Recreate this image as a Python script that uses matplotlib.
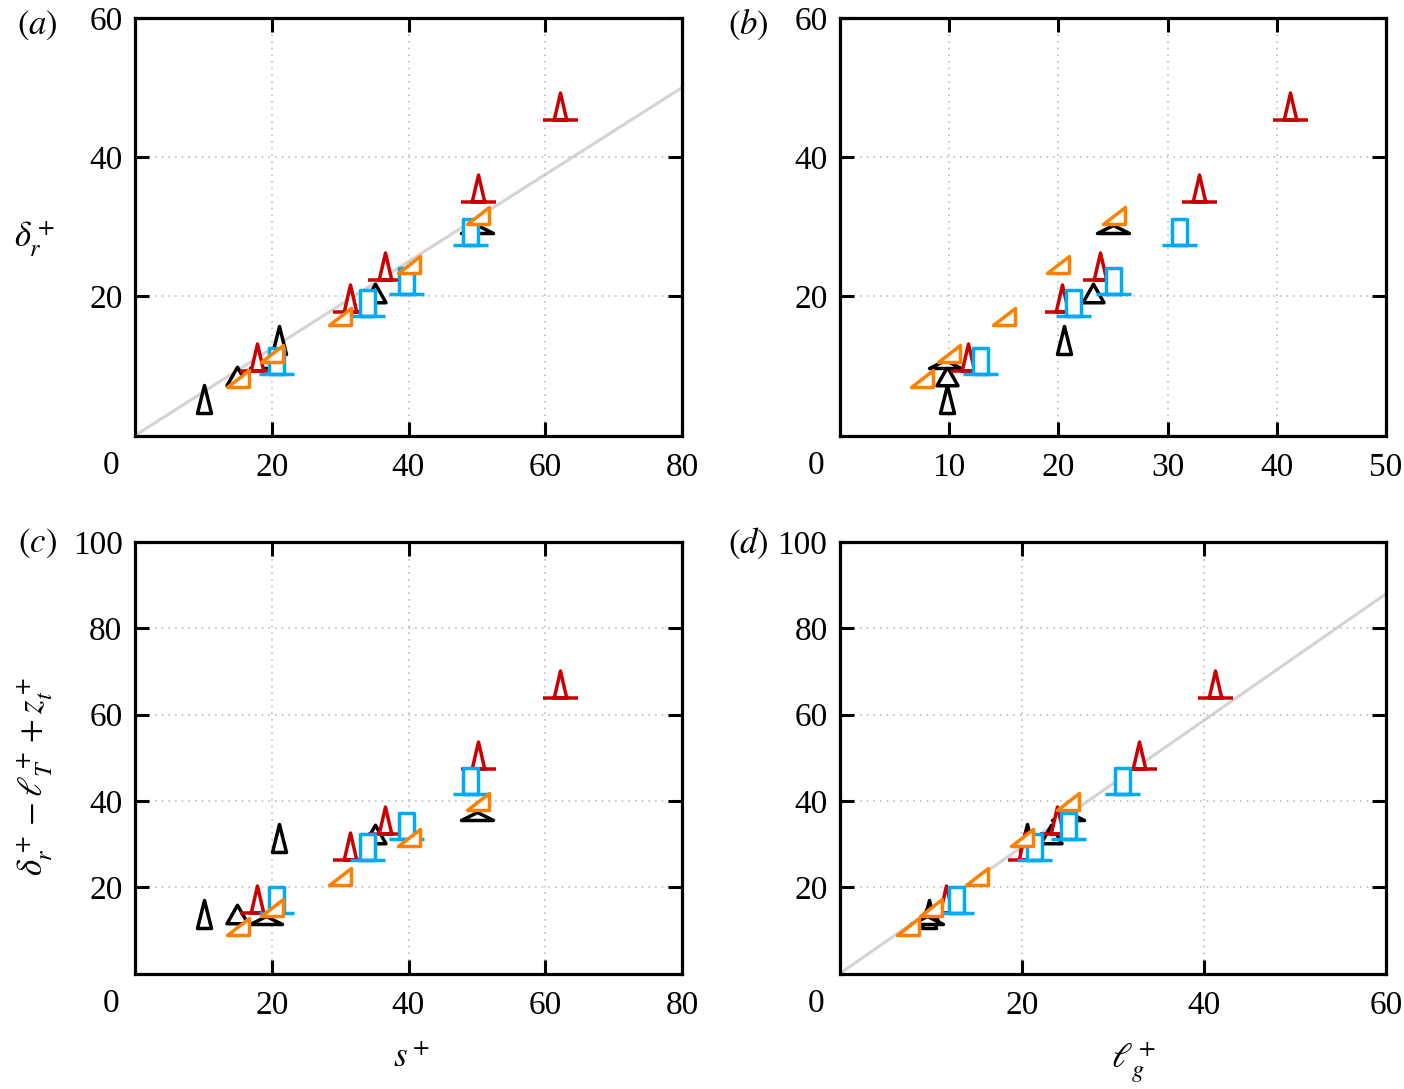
import numpy as np
import matplotlib
matplotlib.use("Agg")
import matplotlib.pyplot as plt
from matplotlib.path import Path
from matplotlib.markers import MarkerStyle

plt.rcParams['font.family'] = ['Liberation Serif', 'DejaVu Serif']
plt.rcParams['mathtext.fontset'] = 'stix'

# [DATA] ----------------------------------------------------------------------
# black: triangles of three aspect ratios
blk_s = [10.1, 14.9, 19.2, 21.1, 35.1, 50.0]
blk_lg = [9.8, 9.8, 9.6, 20.5, 23.2, 25.0]
blk_dr = [5.3, 8.5, 10.3, 13.7, 20.5, 29.7]
blk_yc = [13.8, 13.8, 12.4, 31.3, 32.4, 36.6]
blk_shape = ['tall', 'mid', 'wide', 'tall', 'mid', 'wide']

# red: triangle on a base plate
red_s = [17.9, 31.5, 36.6, 50.1, 62.2]
red_lg = [11.7, 20.3, 23.85, 32.9, 41.2]
red_dr = [11.3, 19.8, 24.3, 35.5, 47.4]
red_yc = [17.2, 29.5, 35.5, 50.6, 67.2]

# blue: bar on a base plate
blu_s = [20.6, 33.9, 39.6, 49.0]
blu_lg = [12.8, 21.3, 25.0, 31.0]
blu_dr = [10.7, 19.0, 22.2, 29.2]
blu_yc = [17.0, 29.3, 34.2, 44.6]

# orange: right triangle
org_s = [15.0, 20.0, 30.0, 40.1, 50.2]
org_lg = [7.5, 10.0, 15.0, 20.0, 25.1]
org_dr = [8.3, 11.8, 17.2, 24.7, 31.7]
org_yc = [10.9, 15.3, 22.7, 31.7, 40.0]

# grey reference lines (end points)
fit_a_x, fit_a_y = [0, 80], [0, 50]
fit_d_x, fit_d_y = [0, 60], [0, 88]

# [END DATA]

C_BLK = 'black'
C_RED = '#cc0000'
C_BLU = '#00aaf5'
C_ORG = '#ff8000'

PX = 0.72  # points per pixel at dpi=100
MOVE, LINE, CLOSE = Path.MOVETO, Path.LINETO, Path.CLOSEPOLY
FS = 24


def make_marker(verts, codes):
    verts = np.asarray(verts, float)
    r = np.max(np.abs(verts))
    m = MarkerStyle(Path(verts, codes), joinstyle='miter', capstyle='butt')
    return m, 2 * r * PX


def tri(w, h):
    return make_marker([(-w/2, -h/2), (w/2, -h/2), (0, h/2), (0, 0)],
                       [MOVE, LINE, LINE, CLOSE])


def tri_plate(w, h, L):
    return make_marker([(-w/2, -h/2), (w/2, -h/2), (0, h/2), (0, 0),
                        (-L/2, -h/2), (L/2, -h/2)],
                       [MOVE, LINE, LINE, CLOSE, MOVE, LINE])


def bar_plate(w, h, L):
    return make_marker([(-w/2, -h/2), (-w/2, h/2), (w/2, h/2), (w/2, -h/2),
                        (0, 0), (-L/2, -h/2), (L/2, -h/2)],
                       [MOVE, LINE, LINE, LINE, CLOSE, MOVE, LINE])


def right_tri(w, h):
    return make_marker([(-w/2, -h/2), (w/2, -h/2), (w/2, h/2), (0, 0)],
                       [MOVE, LINE, LINE, CLOSE])


BLK_MK = {'tall': tri(14, 28), 'mid': tri(21, 18.5), 'wide': tri(32, 8)}
RED_MK = tri_plate(12.5, 27, 35)
BLU_MK = bar_plate(15, 26, 35)
ORG_MK = right_tri(22, 17)
MEW = 2.5


def draw(ax, xs, ys, mk, color, z):
    m, size = mk
    for x, y in zip(xs, ys):
        ax.plot([x], [y], ls='none', marker=m, markersize=size,
                mec=color, mfc='white', mew=MEW, zorder=z, clip_on=False)


def panel(ax, xb, xr, yb, xlim, ylim, xt, yt):
    for i in range(len(xb)):
        draw(ax, [xb[i]], [yb[i]], BLK_MK[blk_shape[i]], C_BLK, 3)
    draw(ax, xr[0], xr[1], RED_MK, C_RED, 4)
    draw(ax, xr[2], xr[3], BLU_MK, C_BLU, 5)
    draw(ax, xr[4], xr[5], ORG_MK, C_ORG, 6)
    ax.set_xlim(*xlim)
    ax.set_ylim(*ylim)
    ax.set_xticks(xt)
    ax.set_yticks(yt)
    ax.grid(True, ls=(0, (1, 3)), color='#bdbdbd', lw=1.2, zorder=0)
    ax.tick_params(direction='in', length=10, width=2.2, top=True,
                   right=True, labelsize=FS)
    ax.tick_params(axis='x', pad=12)
    ax.tick_params(axis='y', pad=9)
    for sp in ax.spines.values():
        sp.set_linewidth(2.3)
    ax.annotate('0', xy=(0, 0), xycoords='axes fraction', xytext=(-17, -22),
                textcoords='offset points', ha='center', va='center',
                fontsize=FS)


fig = plt.figure(figsize=(14.04, 10.89), dpi=100)
W = 1404.0
H = 1089.0


def box(l, t, r, b):
    return [l / W, 1 - b / H, (r - l) / W, (b - t) / H]


axa = fig.add_axes(box(135, 18, 682, 435.5))
axb = fig.add_axes(box(840, 18, 1386, 435.5))
axc = fig.add_axes(box(135, 542, 682, 973.5))
axd = fig.add_axes(box(840, 542, 1386, 973.5))

axa.plot(fit_a_x, fit_a_y, color='#d3d3d3', lw=2.2, zorder=1)
axd.plot(fit_d_x, fit_d_y, color='#d3d3d3', lw=2.2, zorder=1)

panel(axa, blk_s, [red_s, red_dr, blu_s, blu_dr, org_s, org_dr], blk_dr,
      (0, 80), (0, 60), [20, 40, 60, 80], [20, 40, 60])
panel(axb, blk_lg, [red_lg, red_dr, blu_lg, blu_dr, org_lg, org_dr], blk_dr,
      (0, 50), (0, 60), [10, 20, 30, 40, 50], [20, 40, 60])
panel(axc, blk_s, [red_s, red_yc, blu_s, blu_yc, org_s, org_yc], blk_yc,
      (0, 80), (0, 100), [20, 40, 60, 80], [20, 40, 60, 80, 100])
panel(axd, blk_lg, [red_lg, red_yc, blu_lg, blu_yc, org_lg, org_yc], blk_yc,
      (0, 60), (0, 100), [20, 40, 60], [20, 40, 60, 80, 100])

# labels
axa.set_ylabel(r'$\delta_r^+$', fontsize=25, rotation=0)
axa.yaxis.set_label_coords(-0.183, 0.47)
axc.set_ylabel(r'$\delta_r^+ - \ell_T^+ + z_t^+$', fontsize=25)
axc.yaxis.set_label_coords(-0.183, 0.457)
axc.set_xlabel(r'$s^+$', fontsize=25)
axc.xaxis.set_label_coords(0.506, -0.196)
axd.set_xlabel(r'$\ell_g^+$', fontsize=25)
axd.xaxis.set_label_coords(0.537, -0.205)
for ax in (axa, axc, axd):
    ax.xaxis.label.set_va('center')
    ax.yaxis.label.set_va('center')
    ax.yaxis.label.set_ha('center')

for lab, px, py in [('(a)', 37, 25), ('(b)', 748, 25),
                    ('(c)', 37, 543), ('(d)', 748, 543)]:
    fig.text(px / W, 1 - py / H, '$' + lab + '$', ha='center', va='center',
             fontsize=25)

fig.savefig('out.png', dpi=100)
